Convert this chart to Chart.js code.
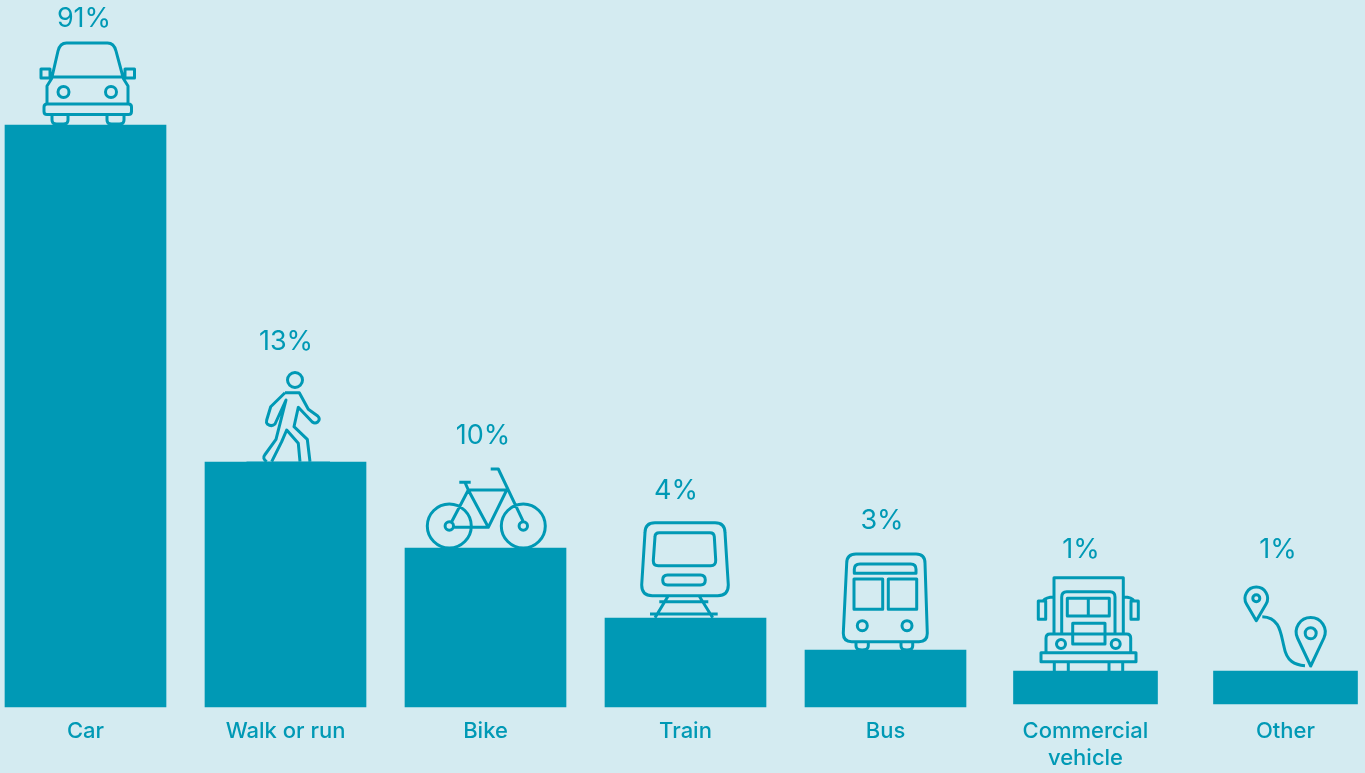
<!DOCTYPE html>
<html lang="en">
<head>
  <meta charset="UTF-8">
  <title>How people travel</title>
  <script src="https://cdn.jsdelivr.net/npm/chart.js"></script>
  <style>
    html, body { margin: 0; padding: 0; background: #d4ebf1; overflow: hidden; }
    canvas { display: block; }
  </style>
</head>
<body>
  <canvas id="travelChart" width="1365" height="773"></canvas>
  <script>
    const categories = ['Car', 'Walk or run', 'Bike', 'Train', 'Bus', ['Commercial', 'vehicle'], 'Other'];
    const percentLabels = ['91%', '13%', '10%', '4%', '3%', '1%', '1%'];

    // bars in the picture are not to scale with the printed percentages,
    // so these are the drawn lengths
    const mainBars = [582, 245, 159, 89, 57, null, null];
    const smallBars = [null, null, null, null, null, [3, 36], [3, 36]];

    const TEAL = '#0099b5';
    const FONT = 'Inter, sans-serif';

    // label offsets from the top centre of each bar
    const labelDx = [-1.5, 0.5, -2.5, -9.5, -3.5, -4.5, -7.5];
    const labelDy = [-106, -120, -112, -127, -129, -121, -121];
    const iconDx = [1, 0, 0, 0, 0, 0.5, 0.5];

    // line icons, origin at the top centre of the bar
    const ICONS = [
      // car
      'M-34.5 -48 L-28.5 -74 Q-26.5 -82 -20 -82 L21 -82 Q27.5 -82 29.5 -74 L36.5 -48 Z' +
      'M-45.5 -56 H-36.5 V-47 H-45.5 Z M38.5 -56 H48 V-47 H38.5 Z' +
      'M-34.5 -47 L-39.5 -39 V-21 M36.5 -47 L41.5 -39 V-21' +
      'M-17.5 -33 A5.5 5.5 0 1 1 -28.5 -33 A5.5 5.5 0 1 1 -17.5 -33 Z' +
      'M30 -33 A5.5 5.5 0 1 1 19 -33 A5.5 5.5 0 1 1 30 -33 Z' +
      'M-39.5 -21 H42 Q45 -21 45 -18 V-13.5 Q45 -10.5 42 -10.5 H-39.5 Q-42.5 -10.5 -42.5 -13.5 V-18 Q-42.5 -21 -39.5 -21 Z' +
      'M-34.5 -10.5 V-5 Q-34.5 -1 -30 -1 H-23 Q-18.5 -1 -18.5 -5 V-10.5' +
      'M20.5 -10.5 V-5 Q20.5 -1 25 -1 H33 Q37.5 -1 37.5 -5 V-10.5',
      // walker
      'M17 -82 A7.5 7.5 0 1 1 2 -82 A7.5 7.5 0 1 1 17 -82 Z' +
      'M-0.5 -69.3 H13.8 L22.8 -52.7 L32.2 -46 Q35.2 -43 32.2 -40 Q29.5 -38 26.8 -40 L12.8 -54.7 L8.5 -35.3 L21.8 -22.7 L24.5 -0.3' +
      'M14.5 -0.3 L12.8 -18.7 L1.2 -32 L-3.8 -20.3 L-13.8 -0.3' +
      'M-18.8 -0.3 Q-23.5 -3.7 -20.8 -7 L-9.5 -22.7 L0.5 -62 L-10.5 -38 Q-13.8 -34.7 -18.2 -38 Q-19.5 -39.3 -18.8 -42 L-14.8 -55.3 L-0.5 -69.3',
      // bike
      'M-14.2 -22 A22 22 0 1 1 -58.2 -22 A22 22 0 1 1 -14.2 -22 Z' +
      'M59.8 -22 A22 22 0 1 1 15.8 -22 A22 22 0 1 1 59.8 -22 Z' +
      'M-32 -22 A4.2 4.2 0 1 1 -40.4 -22 A4.2 4.2 0 1 1 -32 -22 Z' +
      'M42 -22 A4.2 4.2 0 1 1 33.6 -22 A4.2 4.2 0 1 1 42 -22 Z' +
      'M-33.8 -26.3 L-17.2 -58 H21.2 L2.8 -20.7 H-32.2 M-17.2 -58 L2.8 -20.7' +
      'M-26.2 -65.7 H-14.8 M-20.5 -65.7 L-17.2 -58' +
      'M37.8 -26.3 L12.8 -79 H5.2',
      // train
      'M-30.5 -95.3 H29.5 Q39.5 -95.3 39.5 -85.3 L42.8 -33 Q42.8 -22.3 32.2 -22.3 H-33.2 Q-43.8 -22.3 -43.8 -33 L-40.5 -85.3 Q-40.5 -95.3 -30.5 -95.3 Z' +
      'M-26.2 -85.3 H24.5 Q28.5 -85.3 28.8 -81.3 L30.2 -58 Q30.5 -52.3 25.2 -52.3 H-27.2 Q-32.2 -52.3 -32.2 -57.3 L-30.5 -81.3 Q-30.5 -85.3 -26.2 -85.3 Z' +
      'M-18 -43 H15 Q19.8 -43 19.8 -38 Q19.8 -33 15 -33 H-18 Q-22.8 -33 -22.8 -38 Q-22.8 -43 -18 -43 Z' +
      'M-17.2 -22.3 L-30.5 -0.3 M13.5 -22.3 L27.2 -0.3 M-26.2 -16.3 H22.8 M-35.5 -4 H32.2',
      // bus
      'M-29.5 -96 H30.5 Q39.5 -96 39.5 -86.7 L41.8 -16.7 Q41.8 -8.3 33.5 -8.3 H-33.8 Q-42.2 -8.3 -42.2 -16.7 L-38.8 -86.7 Q-38.8 -96 -29.5 -96 Z' +
      'M-31.2 -76.7 V-80.7 Q-31.2 -86 -25.5 -86 H25.2 Q30.5 -86 30.5 -80.7 V-76.7 Z' +
      'M-31.5 -71 H-2.8 V-40.7 H-31.5 Z M2.8 -71 H31.2 V-40.7 H2.8 Z' +
      'M-18.2 -24.3 A5 5 0 1 1 -28.2 -24.3 A5 5 0 1 1 -18.2 -24.3 Z' +
      'M26.5 -24.3 A5 5 0 1 1 16.5 -24.3 A5 5 0 1 1 26.5 -24.3 Z' +
      'M-29.5 -8.3 V-4 Q-29.5 0 -23.4 0 Q-17.2 0 -17.2 -4 V-8.3' +
      'M15.5 -8.3 V-4 Q15.5 0 21.4 0 Q27.2 0 27.2 -4 V-8.3',
      // truck
      'M-32 -37.7 V-93.3 H37.3 V-37.7' +
      'M-47.7 -70 H-40.3 V-51.7 H-47.7 Z M45 -70 H52.3 V-51.7 H45 Z' +
      'M-43 -70 Q-40 -74 -32 -74 M37.3 -74 Q46 -74 48 -70' +
      'M-24.3 -37.7 V-74 Q-24.3 -79.3 -19.3 -79.3 H24 Q29 -79.3 29 -74 V-37.7' +
      'M-18.7 -72.7 H23.3 V-55 H-18.7 Z M2.3 -72.7 V-55' +
      'M-13.3 -47.7 H19 V-27 H-13.3 Z' +
      'M-40 -19.3 V-32.7 Q-40 -37 -36 -37 H40.7 Q44.7 -37 44.7 -32.7 V-19.3' +
      'M-20.5 -27 A4.5 4.5 0 1 1 -29.5 -27 A4.5 4.5 0 1 1 -20.5 -27 Z' +
      'M34.2 -27 A4.5 4.5 0 1 1 25.2 -27 A4.5 4.5 0 1 1 34.2 -27 Z' +
      'M-45 -18.3 H50 V-9.3 H-45 Z' +
      'M-31.7 -9.3 V0 M-17.7 -9.3 V0 M23 -9.3 V0 M36.7 -9.3 V0',
      // two map pins and a route
      'M-29.7 -50.3 L-39.5 -67 A11.3 11.3 0 1 1 -19.9 -67 Z' +
      'M-26.2 -72.7 A3.5 3.5 0 1 1 -33.2 -72.7 A3.5 3.5 0 1 1 -26.2 -72.7 Z' +
      'M24.7 -5 L11.5 -33 A14.5 14.5 0 1 1 37.9 -33 Z' +
      'M30.2 -37.7 A5.5 5.5 0 1 1 19.2 -37.7 A5.5 5.5 0 1 1 30.2 -37.7 Z' +
      'M-23.7 -54.3 C-6 -53.7 -5.3 -37.7 -2 -24.3 C0.7 -9.3 9 -6 19 -5.3'
    ].map((d) => new Path2D(d));

    // faint ground line under the walker
    const WALKER_GROUND = new Path2D('M-39 -0.5 H44.5');

    // percent labels and icons sit on top of the bars
    const barDecorations = {
      id: 'barDecorations',
      afterDatasetsDraw(chart) {
        const { ctx } = chart;
        categories.forEach((_, i) => {
          const datasetIndex = mainBars[i] !== null ? 0 : 1;
          const bar = chart.getDatasetMeta(datasetIndex).data[i];

          ctx.save();
          ctx.font = '400 27px ' + FONT;
          ctx.fillStyle = TEAL;
          ctx.textAlign = 'center';
          ctx.textBaseline = 'middle';
          ctx.fillText(percentLabels[i], bar.x + labelDx[i], bar.y + labelDy[i]);

          ctx.translate(bar.x + iconDx[i], bar.y);
          ctx.strokeStyle = TEAL;
          ctx.lineWidth = 3;
          ctx.lineJoin = 'round';
          ctx.stroke(ICONS[i]);
          if (i === 1) {
            ctx.lineWidth = 1;
            ctx.globalAlpha = 0.4;
            ctx.stroke(WALKER_GROUND);
          }
          ctx.restore();
        });
      },
    };

    new Chart(document.getElementById('travelChart'), {
      type: 'bar',
      data: {
        labels: categories,
        datasets: [
          { data: mainBars, backgroundColor: TEAL, barThickness: 161, grouped: false, clip: false },
          { data: smallBars, backgroundColor: TEAL, barThickness: 144, grouped: false, clip: false },
        ],
      },
      options: {
        responsive: false,
        animation: false,
        layout: { padding: { left: 85.5, right: 79.5, top: 0, bottom: 0 } },
        plugins: { legend: { display: false }, tooltip: { enabled: false } },
        scales: {
          x: {
            offset: false,
            grid: { display: false, drawTicks: false },
            border: { display: false },
            ticks: {
              color: TEAL,
              padding: 11,
              autoSkip: false,
              maxRotation: 0,
              font: { family: FONT, size: 22, weight: '500', lineHeight: '27px' },
            },
            afterFit(axis) {
              axis.height = 66;
              axis.paddingLeft = 0;
              axis.paddingRight = 0;
            },
          },
          y: { display: false, min: 0, max: 707 },
        },
      },
      plugins: [barDecorations],
    });
  </script>
</body>
</html>
